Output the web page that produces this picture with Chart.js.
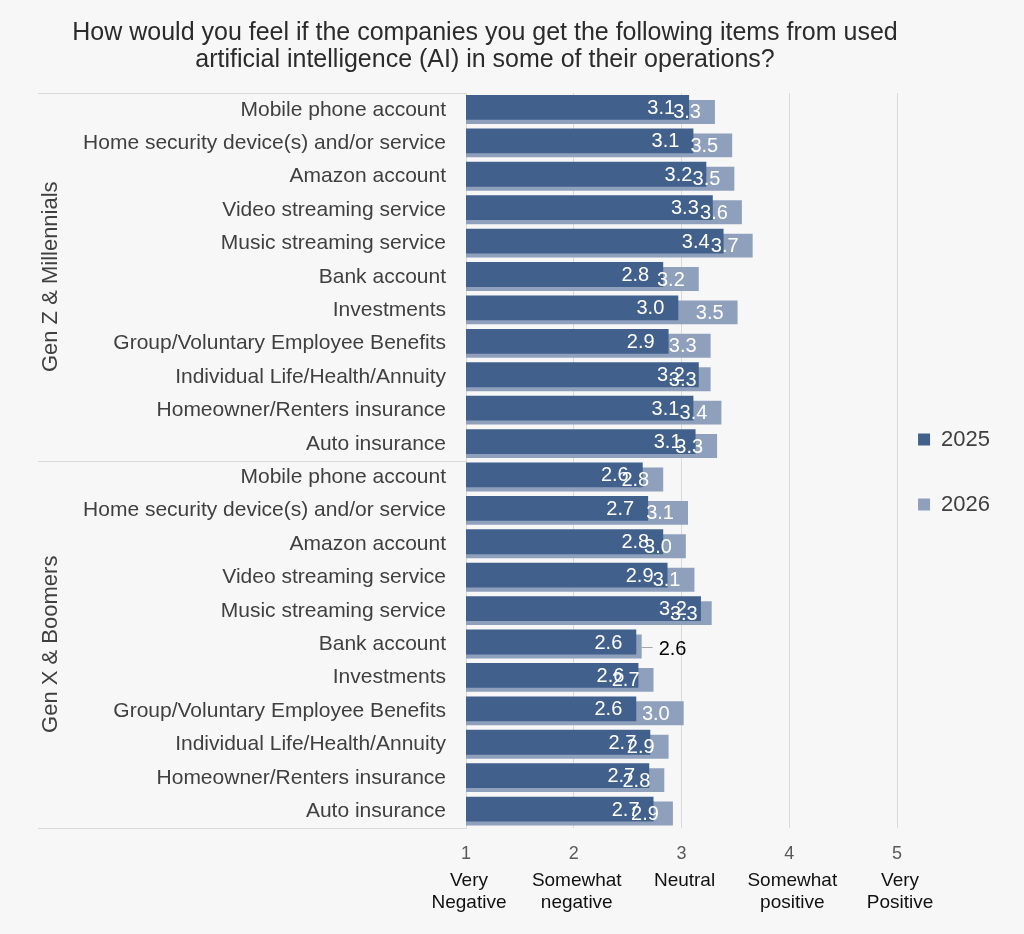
<!DOCTYPE html>
<html>
<head>
<meta charset="utf-8">
<script src="https://cdn.jsdelivr.net/npm/chart.js@4.4.1/dist/chart.umd.min.js"></script>
<style>
  html, body { margin: 0; padding: 0; background: #f7f7f7; }
  #wrap { width: 1024px; height: 934px; }
</style>
</head>
<body>
<div id="wrap"><canvas id="aifeel"></canvas></div>
<script>
const groups = ['Gen Z & Millennials', 'Gen X & Boomers'];
const items = [
    'Mobile phone account',
    'Home security device(s) and/or service',
    'Amazon account',
    'Video streaming service',
    'Music streaming service',
    'Bank account',
    'Investments',
    'Group/Voluntary Employee Benefits',
    'Individual Life/Health/Annuity',
    'Homeowner/Renters insurance',
    'Auto insurance'
];
// Gen Z & Millennials first, then Gen X & Boomers
const values2025 = [3.07, 3.11, 3.23, 3.29, 3.39, 2.83, 2.97, 2.88, 3.16, 3.11, 3.13,
                    2.64, 2.69, 2.83, 2.87, 3.18, 2.58, 2.60, 2.58, 2.71, 2.70, 2.74];
const values2026 = [3.31, 3.47, 3.49, 3.56, 3.66, 3.16, 3.52, 3.27, 3.27, 3.37, 3.33,
                    2.83, 3.06, 3.04, 3.12, 3.28, 2.63, 2.74, 3.02, 2.88, 2.84, 2.92];
const scaleTicks = [1, 2, 3, 4, 5];
const scaleNames = [['Very', 'Negative'], ['Somewhat', 'negative'], ['Neutral'], ['Somewhat', 'positive'], ['Very', 'Positive']];

const FONT = '"Liberation Sans", Arial, sans-serif';
const labels = groups.flatMap(() => items);

// value labels at the end of each bar
const barLabels = {
    id: 'barLabels',
    afterDatasetsDraw(chart) {
        const ctx = chart.ctx;
        const m25 = chart.getDatasetMeta(0);
        const m26 = chart.getDatasetMeta(1);
        ctx.save();
        ctx.font = '20px ' + FONT;
        ctx.textBaseline = 'middle';
        [m26, m25].forEach(meta => {
            const vals = chart.data.datasets[meta.index].data;
            meta.data.forEach((bar, i) => {
                const txt = vals[i].toFixed(1);
                const other = meta.index === 1 ? values2025[i].toFixed(1) : null;
                if (other === txt) {
                    // same label as the front bar: push it outside with a leader line
                    ctx.strokeStyle = '#a6a6a6';
                    ctx.lineWidth = 1;
                    ctx.beginPath();
                    ctx.moveTo(bar.x, Math.round(bar.y) + 0.5);
                    ctx.lineTo(bar.x + 11, Math.round(bar.y) + 0.5);
                    ctx.stroke();
                    ctx.fillStyle = '#000';
                    ctx.textAlign = 'left';
                    ctx.fillText(txt, bar.x + 17, bar.y + 3);
                } else {
                    ctx.fillStyle = '#fff';
                    ctx.textAlign = 'right';
                    ctx.fillText(txt, bar.x - 14, bar.y + 1);
                }
            });
        });
        ctx.restore();
    }
};

// multi-level category axis: group names and separator lines
const groupAxis = {
    id: 'groupAxis',
    afterLayout(chart) {
        // legend sits close to the plot, a little below centre
        const lg = chart.legend;
        const dx = chart.chartArea.right + 21 - (lg.left + lg.options.labels.padding);
        lg.left += dx;
        lg.right += dx;
        lg.top += 5;
        lg.bottom += 5;
        // title is centred a bit left of the page centre
        chart.titleBlock.left -= 26;
        chart.titleBlock.right -= 26;
    },
    afterDraw(chart) {
        const ctx = chart.ctx;
        const y = chart.scales.y;
        const area = chart.chartArea;
        const left = 38;
        ctx.save();
        ctx.strokeStyle = '#d9d9d9';
        ctx.lineWidth = 1;
        const cuts = [area.top];
        groups.forEach((g, gi) => cuts.push(y.getPixelForValue((gi + 1) * items.length - 0.5)));
        cuts.forEach(py => {
            ctx.beginPath();
            ctx.moveTo(left, Math.round(py) + 0.5);
            ctx.lineTo(area.left, Math.round(py) + 0.5);
            ctx.stroke();
        });
        ctx.fillStyle = '#404040';
        ctx.font = '22px ' + FONT;
        ctx.textAlign = 'center';
        ctx.textBaseline = 'middle';
        groups.forEach((g, gi) => {
            const mid = (cuts[gi] + cuts[gi + 1]) / 2;
            ctx.save();
            ctx.translate(51, mid);
            ctx.rotate(-Math.PI / 2);
            ctx.fillText(g, 0, 0);
            ctx.restore();
        });
        // descriptive names under the scale numbers
        const x = chart.scales.x;
        ctx.fillStyle = '#111';
        ctx.font = '19px ' + FONT;
        scaleTicks.forEach((t, i) => {
            const px = x.getPixelForValue(t) + 3;
            scaleNames[i].forEach((line, li) => {
                ctx.fillText(line, px, 881 + li * 22);
            });
        });
        ctx.restore();
    }
};

new Chart(document.getElementById('aifeel'), {
    type: 'bar',
    data: {
        labels: labels,
        datasets: [{
            label: '2025',
            data: values2025,
            backgroundColor: '#41608c',
            order: 0,
            categoryPercentage: 0.27,
            barPercentage: 5.5
        }, {
            label: '2026',
            data: values2026,
            backgroundColor: '#8fa0bd',
            order: 1,
            categoryPercentage: 0.27,
            barPercentage: 5.3
        }]
    },
    options: {
        indexAxis: 'y',
        responsive: true,
        maintainAspectRatio: false,
        animation: false,
        layout: { padding: { right: 2 } },
        scales: {
            x: {
                min: 1,
                max: 5,
                afterBuildTicks: scale => { scale.ticks = scaleTicks.map(v => ({ value: v })); },
                afterFit: scale => { scale.height = 106; },
                grid: { color: '#d9d9d9', drawTicks: false },
                border: { display: false },
                ticks: { color: '#595959', padding: 15, font: { family: FONT, size: 18 } }
            },
            y: {
                afterFit: scale => { scale.width = 466; },
                grid: { display: false, drawTicks: false },
                border: { display: true, color: '#d9d9d9' },
                ticks: { color: '#404040', padding: 20, autoSkip: false, font: { family: FONT, size: 21 } }
            }
        },
        plugins: {
            title: {
                display: true,
                text: ['How would you feel if the companies you get the following items from used',
                       'artificial intelligence (AI) in some of their operations?'],
                color: '#2b2b2b',
                font: { family: FONT, size: 25, weight: 'normal', lineHeight: 1.08 },
                padding: { top: 20, bottom: 19 }
            },
            legend: {
                position: 'right',
                labels: {
                    color: '#404040',
                    boxWidth: 12,
                    boxHeight: 12,
                    padding: 43,
                    font: { family: FONT, size: 22 }
                }
            },
            tooltip: { enabled: false }
        }
    },
    plugins: [barLabels, groupAxis]
});
</script>
</body>
</html>
